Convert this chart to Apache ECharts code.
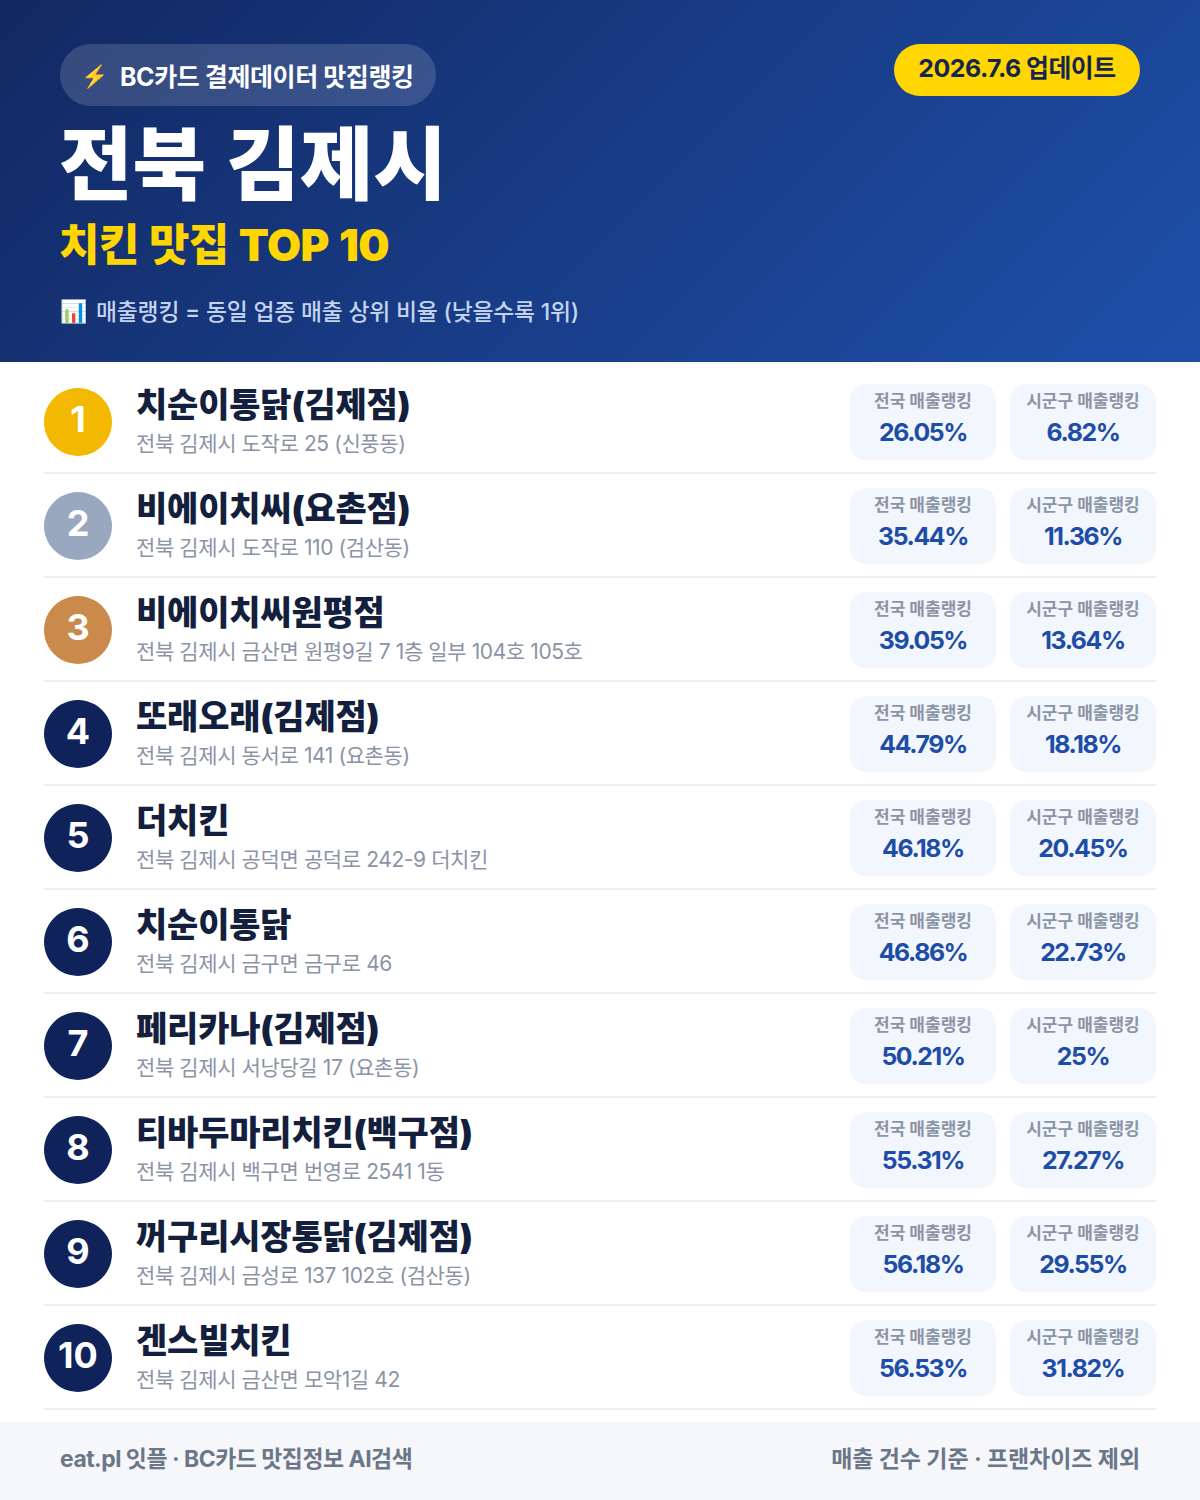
<!DOCTYPE html>
<html><head><meta charset="utf-8">
<style>html,body{margin:0;padding:0;background:#fff}#c{width:1200px;height:1500px}
text[style*="80px"]{word-spacing:4px}
text[style*="44px"]{letter-spacing:-.6px;word-spacing:2px}
text[style*="34px"]{letter-spacing:-.2px}
text[style*="25px"]{letter-spacing:-.42px}
text[style*="24.9px"]{letter-spacing:-.5px}
text[style*="24.8px"]{letter-spacing:-1.4px}
text[style*="23px"]{letter-spacing:-.06px}
text[style*="22.9px"]{letter-spacing:-.48px}
text[style*="22.8px"]{letter-spacing:-.18px}
text[style*="21px"]{letter-spacing:-.4px}
</style>
<script src="https://cdn.jsdelivr.net/npm/echarts@6/dist/echarts.min.js"></script>
</head><body><div id="c"></div>
<script>
const ranks = [1,2,3,4,5,6,7,8,9,10];
const names = ['치순이통닭(김제점)','비에이치씨(요촌점)','비에이치씨원평점','또래오래(김제점)','더치킨','치순이통닭','페리카나(김제점)','티바두마리치킨(백구점)','꺼구리시장통닭(김제점)','겐스빌치킨'];
const addresses = ['전북 김제시 도작로 25 (신풍동)','전북 김제시 도작로 110 (검산동)','전북 김제시 금산면 원평9길 7 1층 일부 104호 105호','전북 김제시 동서로 141 (요촌동)','전북 김제시 공덕면 공덕로 242-9 더치킨','전북 김제시 금구면 금구로 46','전북 김제시 서낭당길 17 (요촌동)','전북 김제시 백구면 번영로 2541 1동','전북 김제시 금성로 137 102호 (검산동)','전북 김제시 금산면 모악1길 42'];
const nationalRank = [26.05,35.44,39.05,44.79,46.18,46.86,50.21,55.31,56.18,56.53];
const localRank = [6.82,11.36,13.64,18.18,20.45,22.73,25,27.27,29.55,31.82];
const nationalLabel = '전국 매출랭킹';
const localLabel = '시군구 매출랭킹';
const badgeText = 'BC카드 결제데이터 맛집랭킹';
const dateText = '2026.7.6 업데이트';
const titleText = '전북 김제시';
const subtitleText = '치킨 맛집 TOP 10';
const noteText = '매출랭킹 = 동일 업종 매출 상위 비율 (낮을수록 1위)';
const footerLeft = 'eat.pl 잇플 · BC카드 맛집정보 AI검색';
const footerRight = '매출 건수 기준 · 프랜차이즈 제외';

const FONT = 'Inter,"Noto Sans CJK KR",sans-serif';
const medal = ['#F2B900','#9AA8BF','#C98A4B'];
const navy = '#10225A';

function txt(x,y,text,size,weight,fill,align){
  return {type:'text',style:{x,y,text,fontFamily:FONT,fontSize:size,fontWeight:weight,fill,align:align||'left',verticalAlign:'middle'}};
}
function card(cx,cy,label,value){
  return [
    {type:'rect',shape:{x:cx-73,y:cy-38,width:146,height:76,r:16},style:{fill:'#F2F6FD'}},
    txt(cx,cy-21,label,17,700,'#8C95A5','center'),
    txt(cx,cy+10,value+'%',24.8,700,'#1E4DA8','center')
  ];
}
const chart = echarts.init(document.getElementById('c'),null,{renderer:'svg'});
chart.setOption({
  animation:false,
  backgroundColor:'#ffffff',
  grid:{left:0,right:0,top:370,height:1040},
  xAxis:{type:'value',min:0,max:1200,show:false},
  yAxis:{type:'category',data:names,inverse:true,show:false},
  graphic:{elements:[
    {type:'rect',z:0,shape:{x:0,y:0,width:1200,height:362},style:{fill:{type:'linear',x:210,y:-209,x2:990,y2:571,global:true,colorStops:[{offset:0,color:'#122862'},{offset:1,color:'#1E50AA'}]}}},
    {type:'rect',z:1,shape:{x:60,y:44,width:376,height:62,r:31},style:{fill:'rgba(255,255,255,0.15)'}},
    {type:'text',z:2,style:{x:81,y:76,text:'⚡',fontSize:22,fontFamily:'"Noto Color Emoji",'+FONT,verticalAlign:'middle'}},
    {type:'text',z:2,style:{x:120,y:77,text:badgeText,fontFamily:FONT,fontSize:25,fontWeight:700,fill:'#fff',verticalAlign:'middle'}},
    {type:'rect',z:1,shape:{x:894,y:44,width:246,height:52,r:26},style:{fill:'#FFD600'}},
    {type:'text',z:2,style:{x:1017,y:68,text:dateText,fontFamily:FONT,fontSize:24.9,fontWeight:700,fill:'#14264F',align:'center',verticalAlign:'middle'}},
    {type:'text',z:2,style:{x:59,y:163,text:titleText,fontFamily:FONT,fontSize:80,fontWeight:900,fill:'#fff',verticalAlign:'middle'}},
    {type:'text',z:2,style:{x:59,y:245,text:subtitleText,fontFamily:FONT,fontSize:44,fontWeight:900,fill:'#FFD600',verticalAlign:'middle'}},
    {type:'text',z:2,style:{x:60,y:311,text:'📊',fontSize:22,fontFamily:'"Noto Color Emoji",'+FONT,verticalAlign:'middle'}},
    {type:'text',z:2,style:{x:96,y:311,text:noteText,fontFamily:FONT,fontSize:22.8,fontWeight:500,fill:'#C4D3EE',verticalAlign:'middle'}},
    {type:'rect',z:1,shape:{x:0,y:1422,width:1200,height:78},style:{fill:'#F5F7FB'}},
    {type:'text',z:2,style:{x:60,y:1459,text:footerLeft,fontFamily:FONT,fontSize:22.9,fontWeight:700,fill:'#6B7688',verticalAlign:'middle'}},
    {type:'text',z:2,style:{x:1140,y:1459,text:footerRight,fontFamily:FONT,fontSize:23,fontWeight:700,fill:'#6B7688',align:'right',verticalAlign:'middle'}}
  ]},
  series:[{
    type:'custom',
    clip:false,
    coordinateSystem:'cartesian2d',
    data:ranks.map((r,i)=>[78,i]),
    encode:{x:0,y:1},
    renderItem(params,api){
      const i=api.value(1);
      const p=api.coord([api.value(0),i]);
      const cy=p[1], left=p[0]-34;
      const rank=ranks[i];
      return {type:'group',children:[
        {type:'rect',shape:{x:left,y:cy+50,width:1112,height:2},style:{fill:'#ECEEF2'}},
        {type:'circle',shape:{cx:p[0],cy,r:34},style:{fill:i<3?medal[i]:navy}},
        txt(p[0],cy-3,String(rank),36,700,'#fff','center'),
        txt(136,cy-18,names[i],34,900,'#141F3D'),
        txt(136,cy+21,addresses[i],21,400,'#8A94A6'),
        ...card(923,cy,nationalLabel,nationalRank[i]),
        ...card(1083,cy,localLabel,localRank[i])
      ]};
    }
  }]
});
</script></body></html>
